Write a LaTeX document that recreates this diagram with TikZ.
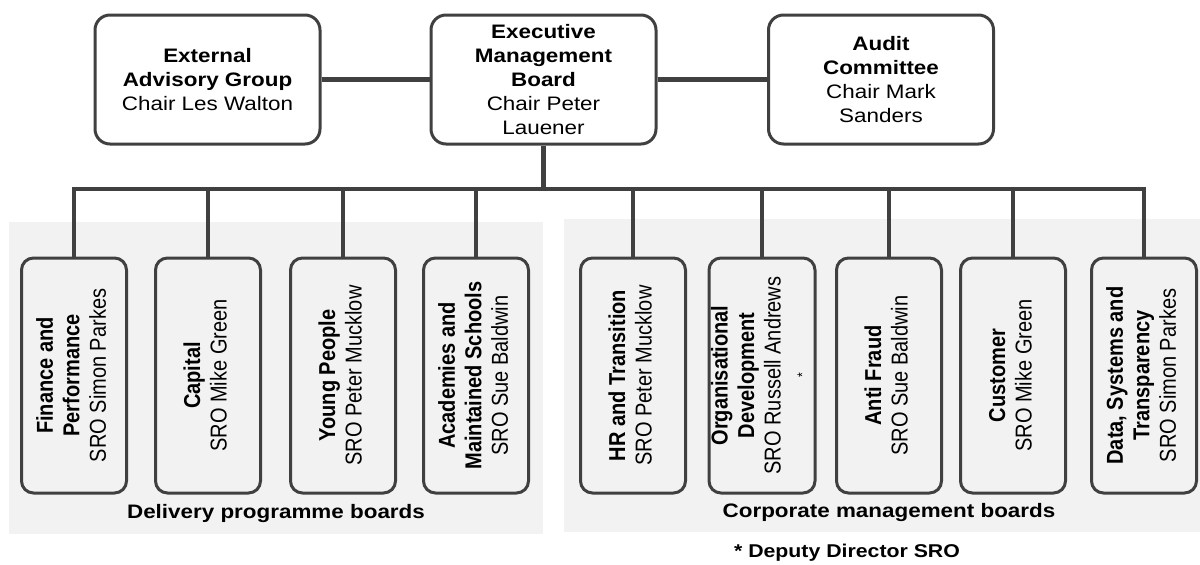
\documentclass[tikz,border=0pt]{standalone}
\usepackage{fontspec}
\usepackage{graphicx}
\setmainfont{Liberation Sans}
\newfontfamily\topfont[FakeStretch=1.15]{Liberation Sans}
\newfontfamily\sidefont[FakeStretch=0.87]{Liberation Sans}
\definecolor{linegray}{RGB}{64,64,64}
\definecolor{panelgray}{RGB}{242,242,242}

\pgfdeclarelayer{background}
\pgfsetlayers{background,main}
\tikzstyle{topboard}=[draw=linegray,line width=3pt,rounded corners=15pt,fill=white,minimum width=225pt,minimum height=129pt,inner sep=0pt,align=center,font=\topfont\fontsize{19.5}{24}\selectfont]
\tikzstyle{board}=[draw=linegray,line width=3pt,rounded corners=12pt,fill=panelgray,minimum width=105pt,minimum height=235pt,inner sep=0pt,font=\sidefont\fontsize{23}{26.5}\selectfont]
\tikzstyle{link}=[draw=linegray,line width=4.5pt]
\tikzstyle{panel}=[fill=panelgray]
\tikzstyle{caption}=[font=\topfont\bfseries\fontsize{19.5}{24}\selectfont]
\newcommand{\boardtext}[1]{\rotatebox{90}{\begin{tabular}{@{}c@{}}#1\end{tabular}}}

\begin{document}
\begin{tikzpicture}[x=1pt,y=-1pt]
    \useasboundingbox (0,0) rectangle (1200,565);
    \foreach \pos/\name/\txt in {{(207.5,79.5)/eag/{\textbf{External}\\\textbf{Advisory Group}\\Chair Les Walton}},
                                 {(543.5,79.5)/emb/{\textbf{Executive}\\\textbf{Management}\\\textbf{Board}\\Chair Peter\\Lauener}},
                                 {(881,79.5)/aud/{\textbf{Audit}\\\textbf{Committee}\\Chair Mark\\Sanders}}}
        \node[topboard] (\name) at \pos {\txt};
    \foreach \pos/\name/\txt in {{(74,375.5)/fin/{\textbf{Finance and}\\\textbf{Performance}\\SRO Simon Parkes}},
                                 {(208,375.5)/cap/{\textbf{Capital}\\SRO Mike Green}},
                                 {(343,375.5)/yp/{\textbf{Young People}\\SRO Peter Mucklow}},
                                 {(476,375.5)/ams/{\textbf{Academies and}\\\textbf{Maintained Schools}\\SRO Sue Baldwin}},
                                 {(633,375.5)/hrt/{\textbf{HR and Transition}\\SRO Peter Mucklow}},
                                 {(762,375.5)/od/{\textbf{Organisational}\\\textbf{Development}\\SRO Russell Andrews\\{\fontsize{14}{14}\selectfont *}}},
                                 {(889,375.5)/af/{\textbf{Anti Fraud}\\SRO Sue Baldwin}},
                                 {(1013,375.5)/cus/{\textbf{Customer}\\SRO Mike Green}},
                                 {(1144,375.5)/dst/{\textbf{Data, Systems and}\\\textbf{Transparency}\\SRO Simon Parkes}}}
        \node[board] (\name) at \pos {\boardtext{\txt}};
    \coordinate (bus) at (543.5,189);
    \path[link] (eag) -- (emb);
    \path[link] (emb) -- (aud);
    \path[link] (emb) -- (bus);
    \foreach \dest in {fin,cap,yp,ams,hrt,od,af,cus,dst}
        \path[link] (bus) -| (\dest);

    \node[caption] (dpb) at (276,513) {Delivery programme boards};
    \node[caption] (cmb) at (889,512) {Corporate management boards};
    \node[caption,font=\topfont\bfseries\fontsize{18.5}{22}\selectfont] (note) at (847,553) {* Deputy Director SRO};

    \begin{pgfonlayer}{background}
        \path[panel] (9,222) rectangle (543,534);
        \path[panel] (564,219) rectangle (1200,532);
    \end{pgfonlayer}
\end{tikzpicture}
\end{document}
